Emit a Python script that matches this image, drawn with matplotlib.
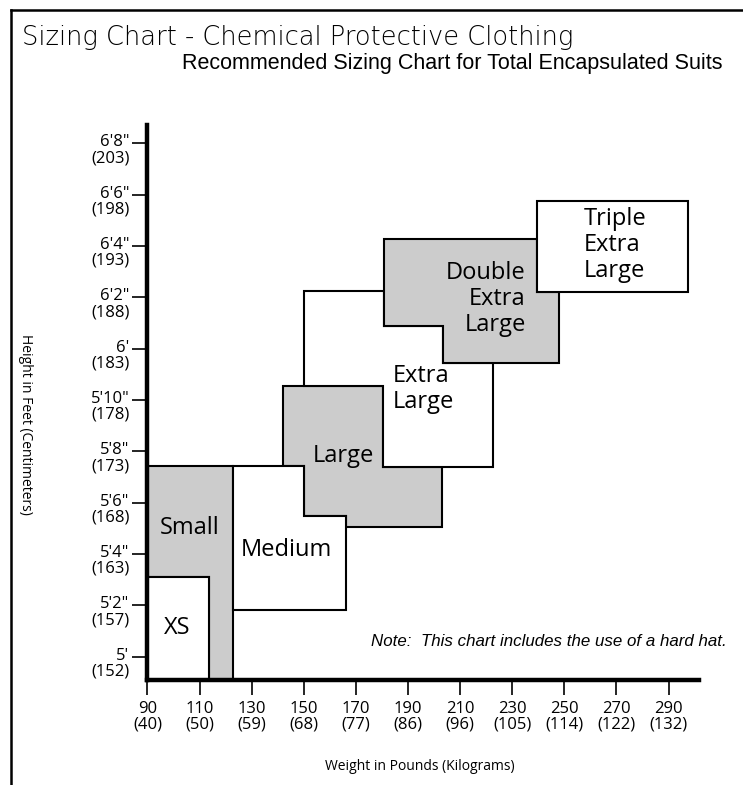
import matplotlib
matplotlib.use("Agg")
import matplotlib.pyplot as plt
from matplotlib.patches import Polygon
from matplotlib.lines import Line2D
from matplotlib.transforms import ScaledTranslation

plt.rcParams['font.family'] = ['Open Sans', 'DejaVu Sans']

# axis ticks
weight_lbs = [90, 110, 130, 150, 170, 190, 210, 230, 250, 270, 290]
weight_kg = [40, 50, 59, 68, 77, 86, 96, 105, 114, 122, 132]
height_in = [60, 62, 64, 66, 68, 70, 72, 74, 76, 78, 80]
height_ft = ["5'", "5'2\"", "5'4\"", "5'6\"", "5'8\"", "5'10\"", "6'", "6'2\"", "6'4\"", "6'6\"", "6'8\""]
height_cm = [152, 157, 163, 168, 173, 178, 183, 188, 193, 198, 203]

# size regions: outline vertices (weight in lbs, height in inches)
small_w = [90, 122.7, 122.7, 113.6, 113.6, 90]
small_h = [67.44, 67.44, 59.09, 59.09, 63.12, 63.12]
xs_w = [90, 113.6, 113.6, 90]
xs_h = [59.09, 59.09, 63.12, 63.12]
medium_w = [122.7, 150.2, 150.2, 166.1, 166.1, 122.7]
medium_h = [67.44, 67.44, 65.49, 65.49, 61.81, 61.81]
large_w = [141.9, 180.5, 180.5, 202.9, 202.9, 166.1, 166.1, 150.2, 150.2, 141.9]
large_h = [70.56, 70.56, 67.38, 67.38, 65.03, 65.03, 65.49, 65.49, 67.44, 67.44]
xl_w = [150.2, 180.8, 180.8, 203.6, 203.6, 222.7, 222.7, 180.5, 180.5, 150.2]
xl_h = [74.25, 74.25, 72.89, 72.89, 71.45, 71.45, 67.38, 67.38, 70.56, 70.56]
xxl_w = [180.8, 239.4, 239.4, 248.1, 248.1, 203.6, 203.6, 180.8]
xxl_h = [76.26, 76.26, 74.21, 74.21, 71.45, 71.45, 72.89, 72.89]
xxxl_w = [239.4, 297.6, 297.6, 239.4]
xxxl_h = [77.75, 77.75, 74.21, 74.21]

GRAY = '#cccccc'

fig = plt.figure(figsize=(7.43, 7.85), dpi=100)
ax = fig.add_axes([0.1985, 0.1338, 0.7427, 0.7070])

regions = [
    (small_w, small_h, GRAY),
    (xs_w, xs_h, 'white'),
    (large_w, large_h, GRAY),
    (medium_w, medium_h, 'white'),
    (xl_w, xl_h, 'white'),
    (xxl_w, xxl_h, GRAY),
    (xxxl_w, xxxl_h, 'white'),
]
for w, h, c in regions:
    ax.add_patch(Polygon(list(zip(w, h)), closed=True, facecolor=c,
                         edgecolor='black', linewidth=1.5, joinstyle='miter'))

# region labels
lab = dict(fontsize=17, color='black')
ax.text(101.5, 61.1, "XS", ha='center', va='center', **lab)
ax.text(106.3, 65.0, "Small", ha='center', va='center', **lab)
ax.text(143.4, 64.16, "Medium", ha='center', va='center', **lab)
ax.text(165.3, 67.8, "Large", ha='center', va='center', **lab)
ax.text(184.1, 70.43, "Extra\nLarge", ha='left', va='center', linespacing=1.1, **lab)
ax.text(235.2, 73.92, "Double\nExtra\nLarge", ha='right', va='center', multialignment='right', linespacing=1.1, **lab)
ax.text(257.6, 76.04, "Triple\nExtra\nLarge", ha='left', va='center', linespacing=1.1, **lab)

ax.set_xlim(90, 301.8)
ax.set_ylim(59.09, 80.71)
for s in ['top', 'right']:
    ax.spines[s].set_visible(False)
for s in ['left', 'bottom']:
    ax.spines[s].set_linewidth(3.2)
    ax.spines[s].set_zorder(5)

ax.set_xticks(weight_lbs)
ax.set_xticklabels([f"{a}\n({b})" for a, b in zip(weight_lbs, weight_kg)],
                   fontsize=12, linespacing=1.0)
ax.set_yticks(height_in)
ax.set_yticklabels([f"{a}\n({b})" for a, b in zip(height_ft, height_cm)],
                   fontsize=12, linespacing=1.0)
ax.tick_params(axis='both', direction='out', length=11, width=1.2)
ax.tick_params(axis='x', pad=4)
ax.tick_params(axis='y', pad=2)
off = ScaledTranslation(0, -0.05, fig.dpi_scale_trans)
for t in ax.get_yticklabels():
    t.set_transform(t.get_transform() + off)

# titles and axis captions
fig.text(22 / 743, 1 - 37 / 785, "Sizing Chart - Chemical Protective Clothing",
         family='DejaVu Sans', fontweight='light', fontsize=18.5, va='center', ha='left')
fig.text(722 / 743, 1 - 64 / 785, "Recommended Sizing Chart for Total Encapsulated Suits",
         family='Liberation Sans', fontsize=15.5, va='center', ha='right')
fig.text(727 / 743, 1 - 642 / 785, "Note:  This chart includes the use of a hard hat.",
         family='Liberation Sans', style='italic', fontsize=12.2, va='center', ha='right')
fig.text(25 / 743, 1 - 424 / 785, "Height in Feet (Centimeters)",
         fontsize=10, rotation=270, va='center', ha='center')
fig.text(420 / 743, 1 - 766 / 785, "Weight in Pounds (Kilograms)",
         fontsize=10, va='center', ha='center')

# page frame (left and top edges)
fig.add_artist(Line2D([11 / 743, 11 / 743], [0, 1 - 10 / 785], transform=fig.transFigure,
                      color='black', linewidth=1.8))
fig.add_artist(Line2D([11 / 743, 1], [1 - 10 / 785, 1 - 10 / 785], transform=fig.transFigure,
                      color='black', linewidth=1.8))

fig.savefig("out.png", dpi=100)
